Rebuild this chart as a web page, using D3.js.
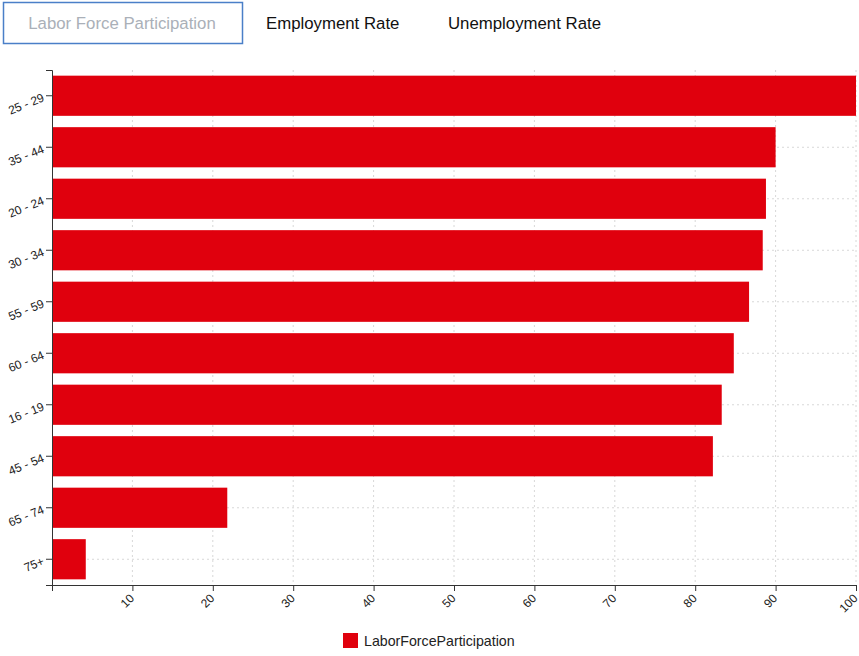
<!DOCTYPE html>
<html><head><meta charset="utf-8">
<script src="https://cdnjs.cloudflare.com/ajax/libs/d3/7.8.5/d3.min.js"></script>
<style>
body{margin:0;background:#fff;font-family:"Liberation Sans",Arial,sans-serif;}
svg{display:block;}
</style></head>
<body>
<svg id="chart" width="859" height="656"></svg>
<script>
const categories = ["25 - 29","35 - 44","20 - 24","30 - 34","55 - 59","60 - 64","16 - 19","45 - 54","65 - 74","75+"];
const laborForceParticipation = [100, 90.0, 88.8, 88.4, 86.7, 84.8, 83.3, 82.2, 21.8, 4.2];
const xTicks = [0,10,20,30,40,50,60,70,80,90,100];
const buttons = ["Labor Force Participation","Employment Rate","Unemployment Rate"];
const seriesName = "LaborForceParticipation";

const svg = d3.select("#chart");
const m = {left:52, right:3, top:70, bottom:71};
const W = 859, H = 656;
const x = d3.scaleLinear().domain([0,100]).range([m.left, W - m.right]);
const y = d3.scaleBand().domain(categories).range([m.top, H - m.bottom]).paddingInner(0.22).paddingOuter(0.11);
const red = "#e0000d";

// buttons
const bx = [3, 266, 448];
svg.append("rect").attr("x",3.5).attr("y",2.5).attr("width",239).attr("height",41)
  .attr("fill","#fff").attr("stroke","#4a7fc8").attr("stroke-width",1.5);
buttons.forEach((b,i)=>{
  svg.append("text").attr("x", i===0 ? 122 : bx[i]).attr("y",28.5)
    .attr("text-anchor", i===0 ? "middle" : "start")
    .attr("font-size", 16.8)
    .attr("fill", i===0 ? "#aab0b8" : "#111")
    .text(b);
});

// grid
const g = svg.append("g");
g.selectAll(".vg").data(xTicks.slice(1)).join("line")
  .attr("x1", d=>x(d)).attr("x2", d=>x(d)).attr("y1", m.top).attr("y2", H - m.bottom)
  .attr("stroke","#d8d8d8").attr("stroke-dasharray","2,3");
g.selectAll(".hg").data(categories).join("line")
  .attr("x1", m.left).attr("x2", W - m.right)
  .attr("y1", d=>y(d)+y.bandwidth()/2).attr("y2", d=>y(d)+y.bandwidth()/2)
  .attr("stroke","#d8d8d8").attr("stroke-dasharray","2,3");

// bars
svg.append("g").selectAll("rect").data(categories).join("rect")
  .attr("x", x(0)).attr("y", d=>y(d))
  .attr("width", (d,i)=>x(laborForceParticipation[i]) - x(0))
  .attr("height", y.bandwidth())
  .attr("fill", red);

// axes
const xa = svg.append("g").attr("transform",`translate(0,${H - m.bottom})`)
  .call(d3.axisBottom(x).tickValues(xTicks).tickFormat(d=> d===0 ? "" : d).tickSizeOuter(0).tickSize(6));
xa.selectAll("text").attr("text-anchor","end").attr("y",0).attr("dy","0.35em")
  .attr("transform","translate(-1,11) rotate(-45)")
  .attr("font-size",12).attr("fill","#222")
  .attr("font-family","Liberation Sans, Arial, sans-serif");
xa.select(".domain").attr("stroke","#333");
xa.selectAll(".tick line").attr("stroke","#333");

const ya = svg.append("g").attr("transform",`translate(${m.left},0)`)
  .call(d3.axisLeft(y).tickSize(6).tickSizeOuter(6));
ya.selectAll("text").attr("text-anchor","end").attr("transform","rotate(-22,-9,0)")
  .attr("x",-9).attr("dy","0.45em").attr("font-size",12).attr("fill","#222")
  .attr("font-family","Liberation Sans, Arial, sans-serif");
ya.select(".domain").attr("stroke","#333");
ya.selectAll(".tick line").attr("stroke","#333");

// legend
svg.append("rect").attr("x",343).attr("y",633).attr("width",15).attr("height",15).attr("fill",red);
svg.append("text").attr("x",364).attr("y",646).attr("font-size",14.2).attr("fill","#222").text(seriesName);
</script>
</body></html>
